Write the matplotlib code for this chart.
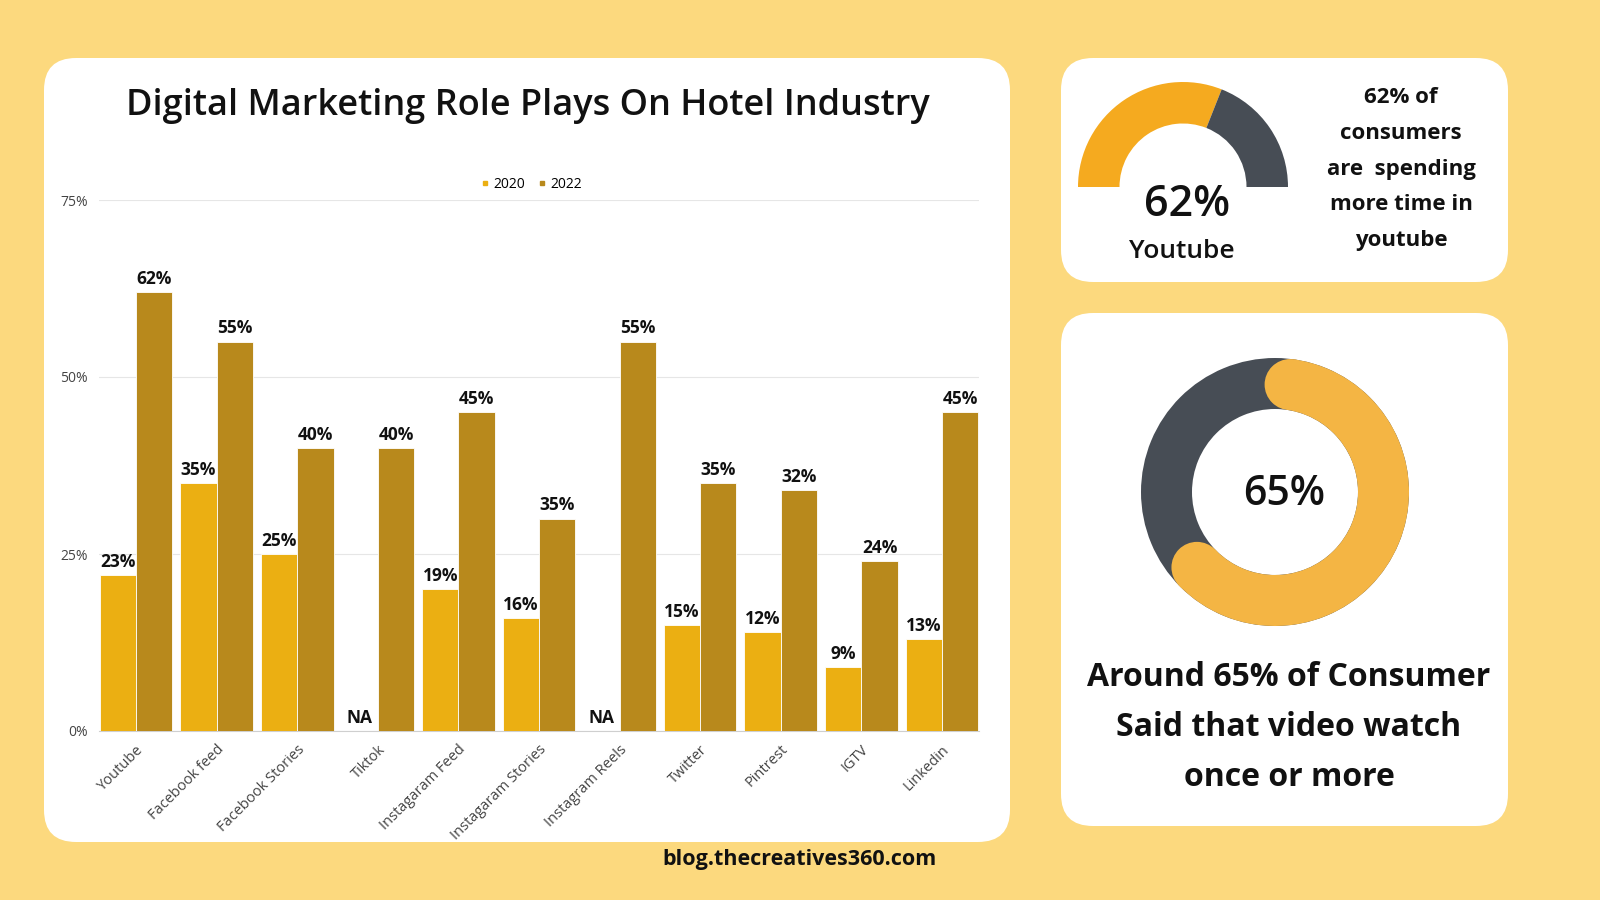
import matplotlib
matplotlib.use("Agg")
import matplotlib.pyplot as plt
from matplotlib.patches import FancyBboxPatch, Wedge, Circle
from matplotlib.lines import Line2D
import numpy as np

# data
categories = ["Youtube", "Facebook feed", "Facebook Stories", "Tiktok", "Instagaram Feed",
              "Instagaram Stories", "Instagram Reels", "Twitter", "Pintrest", "IGTV", "Linkedin"]
vals_2020 = [22, 35, 25, 0, 20, 16, 0, 15, 14, 9, 13]
vals_2022 = [62, 55, 40, 40, 45, 30, 55, 35, 34, 24, 45]
labels_2020 = ["23%", "35%", "25%", "NA", "19%", "16%", "NA", "15%", "12%", "9%", "13%"]
labels_2022 = ["62%", "55%", "40%", "40%", "45%", "35%", "55%", "35%", "32%", "24%", "45%"]
yticks = [0, 25, 50, 75]
youtube_pct = 62
video_pct = 65

BG = "#FCD97E"
C2020 = "#EBAF12"
C2022 = "#B8891C"
GRAY = "#474D55"
W, H = 1600, 900

plt.rcParams["font.family"] = ["Open Sans", "DejaVu Sans"]

fig = plt.figure(figsize=(16, 9), dpi=100)
fig.patch.set_facecolor(BG)

# background canvas in pixel units (y up)
bg = fig.add_axes([0, 0, 1, 1])
bg.set_xlim(0, W)
bg.set_ylim(0, H)
bg.axis("off")


def card(x0, y0, x1, y1, r=32):
    bg.add_patch(FancyBboxPatch((x0, H - y1), x1 - x0, y1 - y0,
                                boxstyle=f"round,pad=0,rounding_size={r}",
                                fc="white", ec="none"))


card(44, 58, 1010, 842)
card(1061, 58, 1508, 282)
card(1061, 313, 1508, 826)

# title and footer
bg.text(528, H - 106, "Digital Marketing Role Plays On Hotel Industry", ha="center", va="center",
        fontsize=26, fontweight="semibold", color="#111111")
bg.text(799, H - 860, "blog.thecreatives360.com", ha="center", va="center",
        fontsize=15.5, fontweight="bold", color="#111111")

# top gauge
gc = (1183, H - 187)
split = 180 - youtube_pct / 100 * 180
bg.add_patch(Wedge(gc, 105, split, 180, width=41.5, fc="#F5AA1F", ec="none"))
bg.add_patch(Wedge(gc, 105, 0, split, width=41.5, fc=GRAY, ec="none"))
bg.text(1187, H - 205, f"{youtube_pct}%", ha="center", va="center", fontsize=31,
        fontweight="semibold", color="#111111")
bg.text(1182, H - 252, "Youtube", ha="center", va="center", fontsize=19,
        fontweight="semibold", color="#111111")
bg.text(1401, H - 169, "62% of\nconsumers\nare  spending\nmore time in\nyoutube", ha="center",
        va="center", fontsize=16, fontweight="bold", color="#111111", linespacing=1.93)

# bottom donut
dc = (1275, H - 492)
r_out, r_w = 134, 51
bg.add_patch(Wedge(dc, r_out, 0, 360, width=r_w, fc=GRAY, ec="none"))
a_start = 82
a_end = a_start - (video_pct * 3.6 - 16)
bg.add_patch(Wedge(dc, r_out, a_end, a_start, width=r_w, fc="#F4B544", ec="none"))
r_mid = r_out - r_w / 2
for a in (a_start, a_end):
    t = np.radians(a)
    bg.add_patch(Circle((dc[0] + r_mid * np.cos(t), dc[1] + r_mid * np.sin(t)), r_w / 2,
                        fc="#F4B544", ec="none"))
bg.text(1284, H - 494, f"{video_pct}%", ha="center", va="center", fontsize=29.5,
        fontweight="semibold", color="#111111")
bg.text(1289, H - 728, "Around 65% of Consumer\nSaid that video watch\nonce or more", ha="center",
        va="center", fontsize=23, fontweight="bold", color="#111111", linespacing=1.68)

# bar chart
left, right, top, bottom = 99, 979, 200, 731
ax = fig.add_axes([left / W, 1 - bottom / H, (right - left) / W, (bottom - top) / H])
ax.set_facecolor("none")
x = np.arange(len(categories))
bw = 0.45
b1 = ax.bar(x - bw / 2, vals_2020, bw, color=C2020, edgecolor="white", linewidth=0.6, zorder=3)
b2 = ax.bar(x + bw / 2, vals_2022, bw, color=C2022, edgecolor="white", linewidth=0.6, zorder=3)
for rect, lab in zip(b1, labels_2020):
    ax.annotate(lab, (rect.get_x() + rect.get_width() / 2, rect.get_height()), xytext=(0, 3),
                textcoords="offset points", ha="center", va="bottom", fontsize=12.5,
                fontweight="bold", color="#111111")
for rect, lab in zip(b2, labels_2022):
    ax.annotate(lab, (rect.get_x() + rect.get_width() / 2, rect.get_height()), xytext=(0, 3),
                textcoords="offset points", ha="center", va="bottom", fontsize=12.5,
                fontweight="bold", color="#111111")

ax.set_xlim(-0.46, len(categories) - 0.54)
ax.set_ylim(0, 75)
ax.set_yticks(yticks)
ax.set_yticklabels([f"{t}%" for t in yticks], fontsize=10, color="#444444")
ax.set_xticks(x)
ax.set_xticklabels(categories, rotation=45, ha="right", rotation_mode="anchor",
                   fontsize=10.5, color="#444444")
ax.tick_params(length=0, pad=8)
ax.grid(axis="y", color="#E6E6E6", linewidth=0.8, zorder=0)
for s in ("top", "right", "left"):
    ax.spines[s].set_visible(False)
ax.spines["bottom"].set_color("#CFCFCF")

handles = [Line2D([], [], marker="s", ls="none", color=C2020, markersize=3.5),
           Line2D([], [], marker="s", ls="none", color=C2022, markersize=3.5)]
ax.legend(handles, ["2020", "2022"], loc="center", bbox_to_anchor=(531 / W, 1 - 184 / H),
          bbox_transform=fig.transFigure, ncol=2, frameon=False, fontsize=10,
          handletextpad=0.2, columnspacing=0.8, handlelength=0.8)

fig.savefig("out.png", dpi=100, facecolor=BG)
